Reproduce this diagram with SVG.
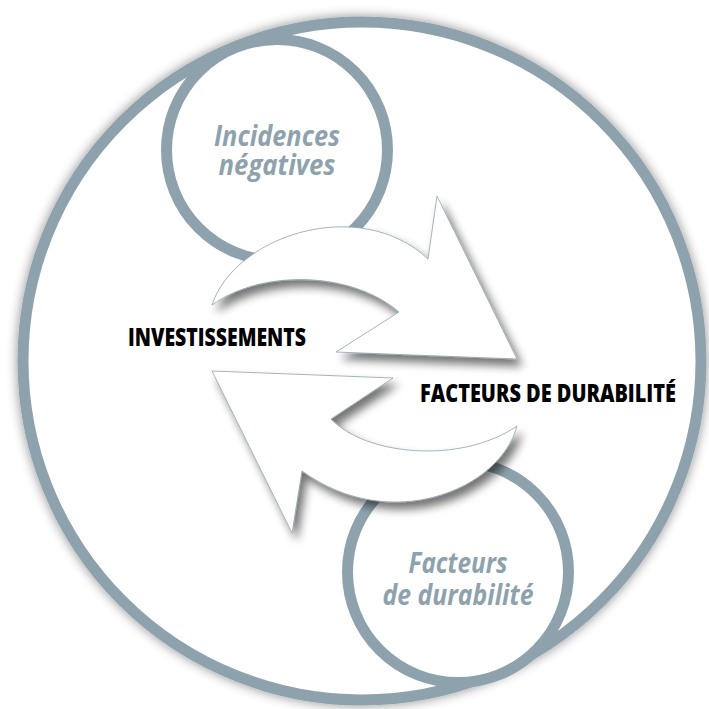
<svg xmlns="http://www.w3.org/2000/svg" width="709" height="709" viewBox="0 0 709 709">
  <defs>
    <filter id="glow" x="-10%" y="-10%" width="120%" height="120%">
      <feGaussianBlur in="SourceAlpha" stdDeviation="6"/>
      <feComponentTransfer><feFuncA type="linear" slope="0.45"/></feComponentTransfer>
      <feMerge><feMergeNode/><feMergeNode in="SourceGraphic"/></feMerge>
    </filter>
    <filter id="drop" x="-20%" y="-20%" width="150%" height="150%">
      <feGaussianBlur in="SourceAlpha" stdDeviation="5"/>
      <feOffset dx="5" dy="7" result="b"/>
      <feComponentTransfer><feFuncA type="linear" slope="0.55"/></feComponentTransfer>
      <feMerge><feMergeNode/><feMergeNode in="SourceGraphic"/></feMerge>
    </filter>
    <style>
      .ring { fill: #ffffff; stroke: #8ea2ad; stroke-width: 11; }
      .arrow { fill: #ffffff; stroke: #8ea2ad; stroke-width: 0.8; stroke-linejoin: miter; }
      .soft { font-family: "Open Sans", "Liberation Sans", sans-serif; font-style: italic; font-weight: 700; font-size: 29px; fill: #8ea2ad; text-anchor: middle; }
      .bold { font-family: "Open Sans", "Liberation Sans", sans-serif; font-weight: 800; font-size: 24px; fill: #000000; }
    </style>
  </defs>
  <rect width="709" height="709" fill="#ffffff"/>

  <g id="outer-circle">
    <circle class="ring" cx="362" cy="361" r="339" filter="url(#glow)"/>
  </g>

  <g id="node-incidences">
    <circle class="ring" cx="277" cy="150" r="110.5"/>
    <text class="soft" x="277" y="146" textLength="126" lengthAdjust="spacingAndGlyphs">Incidences</text>
    <text class="soft" x="277" y="175" textLength="117" lengthAdjust="spacingAndGlyphs">négatives</text>
  </g>

  <g id="node-facteurs">
    <circle class="ring" cx="458" cy="572" r="110.5"/>
    <text class="soft" x="458" y="573" textLength="99" lengthAdjust="spacingAndGlyphs">Facteurs</text>
    <text class="soft" x="458" y="605" textLength="151" lengthAdjust="spacingAndGlyphs">de durabilité</text>
  </g>

  <g id="connectors" filter="url(#drop)">
    <path class="arrow" d="M212,305 C235,235 360,195 428,259 L437,196 L517,359 L336,352 L399,312 C350,270 260,270 212,305 Z"/>
    <path class="arrow" d="M212,371 L393,378 L331,419 C365,455 460,465 517,426 C500,490 390,535 302,471 L292,533 Z"/>
  </g>

  <g id="node-investissements">
    <text class="bold" x="128" y="346" textLength="178" lengthAdjust="spacingAndGlyphs">INVESTISSEMENTS</text>
  </g>
  <g id="node-facteurs-durabilite">
    <text class="bold" x="420" y="402" textLength="256" lengthAdjust="spacingAndGlyphs">FACTEURS DE DURABILITÉ</text>
  </g>
</svg>
